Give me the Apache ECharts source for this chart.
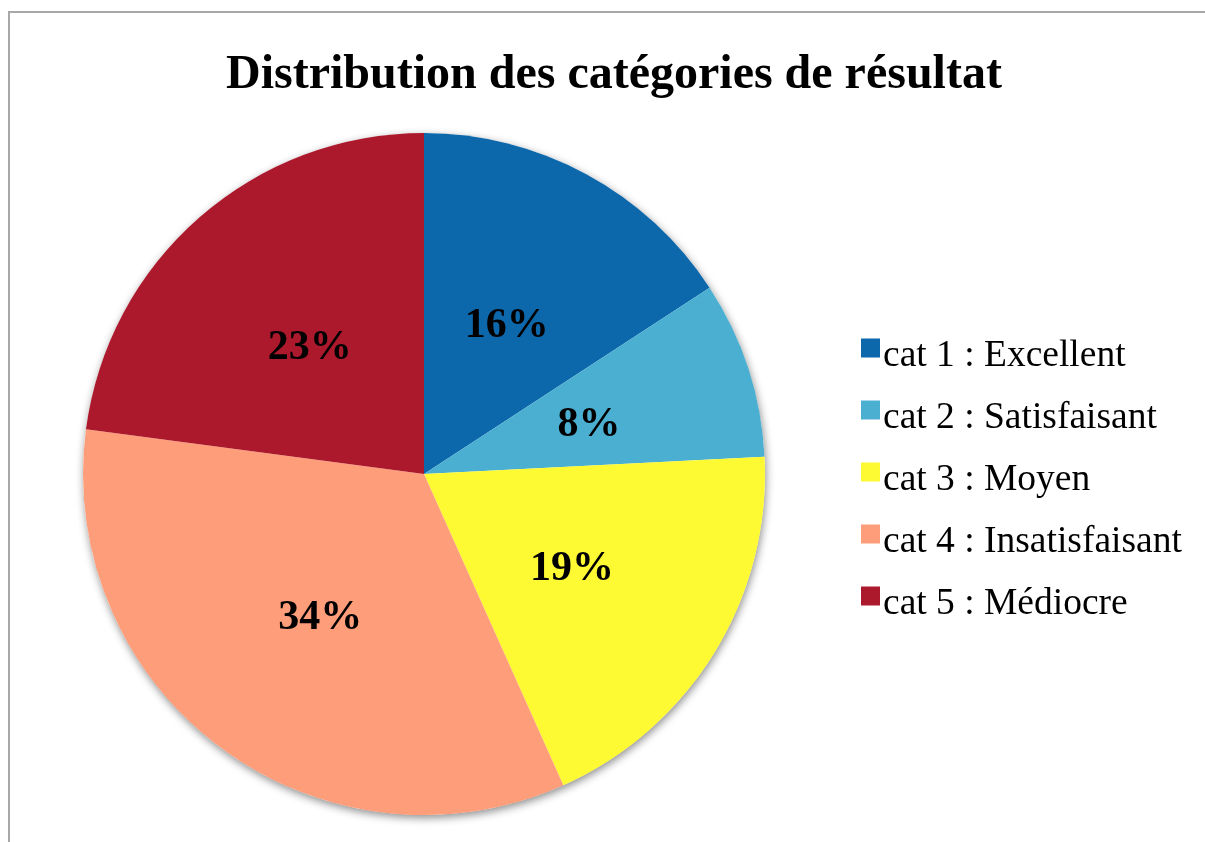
<!DOCTYPE html>
<html lang="fr">
<head>
    <meta charset="UTF-8">
    <title>Distribution des catégories de résultat</title>
    <script src="https://cdn.jsdelivr.net/npm/echarts@6/dist/echarts.min.js"></script>
    <style>
        html, body { margin: 0; padding: 0; background: #fff; }
        #box { width: 1205px; height: 842px; }
    </style>
</head>
<body>
    <div id="box"></div>
</body>
<script>
    // données (en %)
    var categories = ['cat 1 : Excellent', 'cat 2 : Satisfaisant', 'cat 3 : Moyen', 'cat 4 : Insatisfaisant', 'cat 5 : Médiocre']
    var values = [15.8, 8.4, 19.1, 33.8, 22.9]
    var colors = ['#0d67ab', '#4bafd1', '#fdf933', '#fe9d7a', '#ac192d']

    var serif = "'Liberation Serif', 'Times New Roman', serif"
    var data = []
    for (var i = 0; i < categories.length; i++) {
        data.push({ name: categories[i], value: values[i], itemStyle: { color: colors[i] } })
    }

    var mEcharts = echarts.init(document.querySelector('#box'))
    var option = {
        backgroundColor: '#fff',
        animation: false,
        title: {
            text: 'Distribution des catégories de résultat',
            left: 221,
            top: 47,
            textStyle: { fontFamily: serif, fontSize: 48, fontWeight: 'bold', color: '#000' }
        },
        legend: {
            orient: 'vertical',
            left: 856,
            top: 332,
            icon: 'rect',
            itemWidth: 19,
            itemHeight: 19,
            itemGap: 24,
            formatter: '{t|{name}}',
            textStyle: {
                rich: {
                    t: { fontFamily: serif, fontSize: 37.5, color: '#000', padding: [16, 0, 0, -2] }
                }
            },
            data: categories
        },
        graphic: [{
            type: 'rect',
            silent: true,
            shape: { x: 9, y: 12, width: 1300, height: 900 },
            style: { fill: 'none', stroke: '#a8a8a8', lineWidth: 2 }
        }],
        series: [{
            // ombre portée sous le camembert
            type: 'pie',
            silent: true,
            center: [424, 474],
            radius: 341,
            data: [{ name: 'ombre', value: 100 }],
            itemStyle: { color: '#fff', shadowBlur: 8, shadowOffsetX: 1, shadowOffsetY: 3, shadowColor: 'rgba(0,0,0,0.45)' },
            label: { show: false },
            labelLine: { show: false },
            emphasis: { disabled: true },
            tooltip: { show: false }
        }, {
            type: 'pie',
            center: [424, 474],
            radius: 341,
            startAngle: 90,
            clockwise: true,
            percentPrecision: 0,
            data: data,
            label: {
                position: 'inside',
                formatter: '{d}%',
                fontFamily: serif,
                fontSize: 42,
                fontWeight: 'bold',
                color: '#000'
            },
            labelLayout: { dy: 5 },
            labelLine: { show: false },
            emphasis: { disabled: true }
        }]
    }
    mEcharts.setOption(option)
</script>
</html>
